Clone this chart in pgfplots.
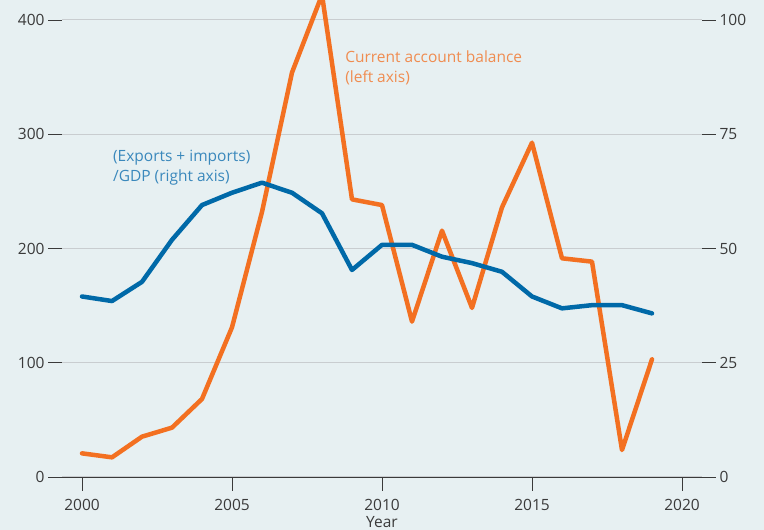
\documentclass[border=0pt]{standalone}
\usepackage{pgfplots}
\pgfplotsset{compat=1.18}
\usepackage{fontspec}
\setmainfont{Open Sans}
\definecolor{bgc}{HTML}{E7F0F2}
\definecolor{orng}{HTML}{F37021}
\definecolor{blu}{HTML}{0069A8}
\definecolor{orlab}{HTML}{F08C50}
\definecolor{bllab}{HTML}{3A88BC}
\definecolor{gridc}{HTML}{C9CDD0}
\definecolor{tk}{HTML}{3A3A3A}
\newcommand{\fs}{\fontsize{15.5}{20.5}\selectfont}
\begin{document}
\begin{tikzpicture}
\fill[bgc] (0,0) rectangle (764pt,530pt);
\useasboundingbox (0,0) rectangle (764pt,530pt);
\pgfplotsset{base/.style={scale only axis, width=640pt, height=477pt, at={(62pt,53pt)}, anchor=south west,
  xmin=1999.3333, xmax=2020.6667, axis line style={draw=none},
  tick style={tk, line width=0.9pt}, tick align=outside, major tick length=14pt,
  ticklabel style={font=\fs, text=tk}, /pgf/number format/assume math mode=true, clip=true}}
\begin{axis}[base, ymin=0, ymax=417.5, ytick={0,100,200,300,400}, ymajorgrids,
  grid style={gridc, line width=1pt}, xtick={2000,2005,...,2020}, xtick pos=bottom, ytick pos=left,
  xticklabel style={/pgf/number format/1000 sep={}, yshift=-5pt},
  xlabel={Year}, xlabel style={font=\fs, text=tk, yshift=-1.5pt, inner sep=0pt}]
\addplot[orng, line width=4.5pt, line join=round, line cap=round] coordinates {
(2000,20.7) (2001,17.2) (2002,35.3) (2003,43.2) (2004,68.3) (2005,131) (2006,232) (2007,354) (2008,422)
(2009,243) (2010,238) (2011,136) (2012,215.6) (2013,148) (2014,236) (2015,292.6) (2016,191.4) (2017,188.5) (2018,23.6) (2019,103)};
\node[anchor=north west, align=left, font=\fs, text=orlab, inner sep=0pt] at (axis cs:2008.77,373.5) {Current account balance\\(left axis)};
\node[anchor=north west, align=left, font=\fs, text=bllab, inner sep=0pt] at (axis cs:2001.03,286.5) {(Exports + imports)\\/GDP (right axis)};
\end{axis}
\begin{axis}[base, ymin=0, ymax=104.375, ytick={0,25,50,75,100}, ytick pos=right, xtick=\empty]
\addplot[blu, line width=4.5pt, line join=round, line cap=round] coordinates {
(2000,39.5) (2001,38.5) (2002,42.7) (2003,51.9) (2004,59.5) (2005,62.2) (2006,64.4) (2007,62.2) (2008,57.7)
(2009,45.3) (2010,50.8) (2011,50.8) (2012,48.2) (2013,46.8) (2014,44.9) (2015,39.5) (2016,36.9) (2017,37.6) (2018,37.6) (2019,35.8)};
\end{axis}
\draw[tk, line width=0.9pt] (48pt,53pt) -- (713pt,53pt);
\end{tikzpicture}
\end{document}
